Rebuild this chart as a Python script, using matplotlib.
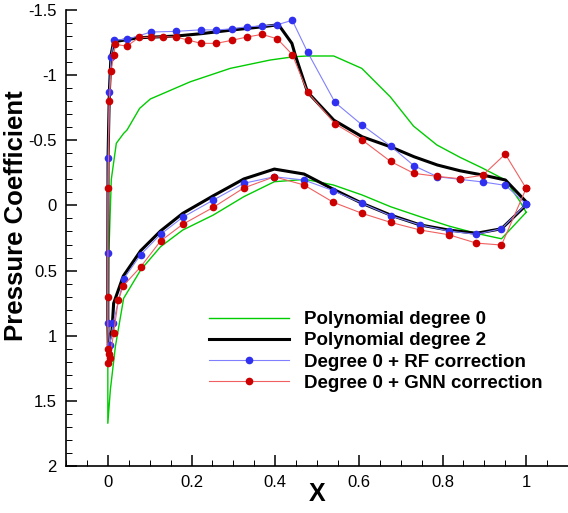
import matplotlib

matplotlib.use("Agg")
import matplotlib.pyplot as plt  # noqa: E402
from matplotlib.ticker import MultipleLocator, FuncFormatter  # noqa: E402

plt.rcParams["font.family"] = ["Liberation Sans", "DejaVu Sans"]
plt.rcParams["axes.unicode_minus"] = False

# Polynomial degree 0 (upper surface TE -> LE, then lower surface LE -> TE)
p0_x = [1.0, 0.9857, 0.9505, 0.894, 0.842, 0.7866, 0.7307, 0.675, 0.607, 0.54,
        0.476, 0.444, 0.388, 0.2927, 0.197, 0.1016, 0.076, 0.0459, 0.0378, 0.0203,
        0.0083, 0.0043, 0.002, 0.0, 0.0, 0.006, 0.018, 0.0378, 0.0784, 0.126,
        0.179, 0.252, 0.325, 0.398, 0.472, 0.539, 0.608, 0.676, 0.747, 0.815,
        0.8805, 0.941, 1.0]
p0_cp = [0.053, -0.028, -0.195, -0.289, -0.369, -0.464, -0.609, -0.834, -1.052, -1.147,
         -1.147, -1.141, -1.116, -1.052, -0.949, -0.817, -0.745, -0.579, -0.553, -0.477,
         -0.2, 0.19, 0.419, 1.238, 1.672, 1.416, 1.084, 0.713, 0.496, 0.317,
         0.189, 0.074, -0.067, -0.182, -0.2, -0.157, -0.08, 0.01, 0.087, 0.158,
         0.214, 0.256, 0.053]

# Polynomial degree 2
p2_x = [1.0, 0.9505, 0.8965, 0.842, 0.788, 0.7317, 0.6757, 0.608, 0.54, 0.4774,
        0.448, 0.44, 0.408, 0.3685, 0.2958, 0.2227, 0.163, 0.0736, 0.0139, 0.0076,
        0.0036, 0.0005, 0.0, 0.0, 0.001, 0.01, 0.0139, 0.037, 0.0784, 0.126,
        0.179, 0.252, 0.325, 0.398, 0.469, 0.539, 0.608, 0.676, 0.747, 0.815,
        0.8805, 0.941, 1.0]
p2_cp = [-0.028, -0.195, -0.233, -0.266, -0.31, -0.374, -0.45, -0.527, -0.655, -0.87,
         -1.154, -1.244, -1.387, -1.371, -1.346, -1.318, -1.3, -1.287, -1.256, -1.154,
         -0.87, -0.364, 0.365, 0.895, 1.071, 0.956, 0.751, 0.542, 0.348, 0.196,
         0.061, -0.074, -0.203, -0.279, -0.241, -0.124, -0.016, 0.074, 0.15, 0.189,
         0.214, 0.179, -0.003]

# Degree 0 + RF correction
rf_x = [1.0, 0.9505, 0.8965, 0.8423, 0.788, 0.7317, 0.6757, 0.608, 0.543, 0.4774,
        0.4409, 0.405, 0.3685, 0.3317, 0.2958, 0.2593, 0.2227, 0.163, 0.1032, 0.0459,
        0.0139, 0.0076, 0.0036, 0.0005, 0.0, 0.0, 0.005, 0.0127, 0.0375, 0.0784,
        0.126, 0.179, 0.252, 0.325, 0.398, 0.469, 0.539, 0.608, 0.676, 0.747,
        0.815, 0.8805, 0.941, 1.0]
rf_cp = [-0.01, -0.154, -0.18, -0.2, -0.22, -0.305, -0.456, -0.617, -0.791, -1.177,
         -1.421, -1.387, -1.377, -1.371, -1.356, -1.346, -1.348, -1.336, -1.331, -1.275,
         -1.269, -1.137, -0.87, -0.361, 0.368, 0.899, 1.071, 0.906, 0.566, 0.378,
         0.222, 0.091, -0.041, -0.17, -0.22, -0.195, -0.113, -0.016, 0.079, 0.15,
         0.196, 0.222, 0.179, -0.01]

# Degree 0 + GNN correction
gnn_x = [1.0, 0.95, 0.8965, 0.842, 0.788, 0.7317, 0.6757, 0.608, 0.543, 0.4774,
         0.4409, 0.405, 0.3685, 0.3317, 0.2958, 0.2593, 0.2227, 0.1924, 0.163, 0.1326,
         0.1032, 0.0746, 0.0459, 0.0179, 0.0139, 0.0076, 0.0036, 0.0005, 0.0, 0.0,
         0.002, 0.0015, 0.005, 0.0139, 0.025, 0.037, 0.0784, 0.126, 0.179, 0.252,
         0.325, 0.398, 0.469, 0.539, 0.608, 0.676, 0.747, 0.815, 0.8805, 0.941, 1.0]
gnn_cp = [-0.131, -0.394, -0.232, -0.205, -0.223, -0.246, -0.338, -0.502, -0.627, -0.87,
          -1.158, -1.279, -1.313, -1.292, -1.267, -1.244, -1.244, -1.269, -1.292, -1.295,
          -1.29, -1.29, -1.223, -1.236, -1.152, -1.031, -0.801, -0.134, 0.701, 1.104,
          1.14, 1.212, 1.173, 0.977, 0.728, 0.616, 0.472, 0.273, 0.145, 0.015,
          -0.134, -0.22, -0.157, -0.024, 0.061, 0.13, 0.189, 0.225, 0.289, 0.304, -0.131]

fig = plt.figure(figsize=(5.68, 5.13), dpi=100)
ax = fig.add_axes([66 / 568, 1 - 466 / 513, 1 - 66 / 568, 456 / 513])

ax.plot(p0_x, p0_cp, color="#00cc00", lw=1.0, label="Polynomial degree 0")
ax.plot(p2_x, p2_cp, color="black", lw=2.2, label="Polynomial degree 2")
ax.plot(rf_x, rf_cp, color="#8080ff", lw=0.8, marker="o", ms=4.5,
        mfc="#3030f0", mec="#3030f0", label="Degree 0 + RF correction")
ax.plot(gnn_x, gnn_cp, color="#f06060", lw=0.8, marker="o", ms=4.5,
        mfc="#cc0000", mec="#cc0000", label="Degree 0 + GNN correction")

ax.set_xlim(-0.1, 1.1)
ax.set_ylim(2, -1.5)
ax.xaxis.set_major_locator(MultipleLocator(0.2))
ax.xaxis.set_minor_locator(MultipleLocator(0.05))
ax.yaxis.set_major_locator(MultipleLocator(0.5))
ax.yaxis.set_minor_locator(MultipleLocator(0.1))
fmt = FuncFormatter(lambda v, _: "%g" % round(v, 3) if abs(v) > 1e-9 else "0")
ax.xaxis.set_major_formatter(fmt)
ax.yaxis.set_major_formatter(fmt)

ax.tick_params(which="major", direction="in", length=8, width=1.1,
               labelsize=12, pad=6.5)
ax.tick_params(which="minor", direction="in", length=4, width=0.7)
ax.tick_params(top=False, right=False)
for side in ("top", "right"):
    ax.spines[side].set_visible(False)
for side in ("left", "bottom"):
    ax.spines[side].set_linewidth(1.2)

ax.set_xlabel("X", fontsize=18, fontweight="bold", va="top")
ax.xaxis.set_label_coords(0.5, -0.036)
ax.set_ylabel("Pressure Coefficient", fontsize=18.5, fontweight="bold")
ax.yaxis.set_label_coords(-0.075, 0.55)

ax.legend(loc="upper left", bbox_to_anchor=(209 / 568, 1 - 311 / 513),
          bbox_transform=fig.transFigure, frameon=False, numpoints=1,
          prop={"size": 13.5, "weight": "bold"}, handlelength=4.27,
          handletextpad=0.8, labelspacing=0.22, borderpad=0, borderaxespad=0)

fig.savefig("out.png", dpi=100)
